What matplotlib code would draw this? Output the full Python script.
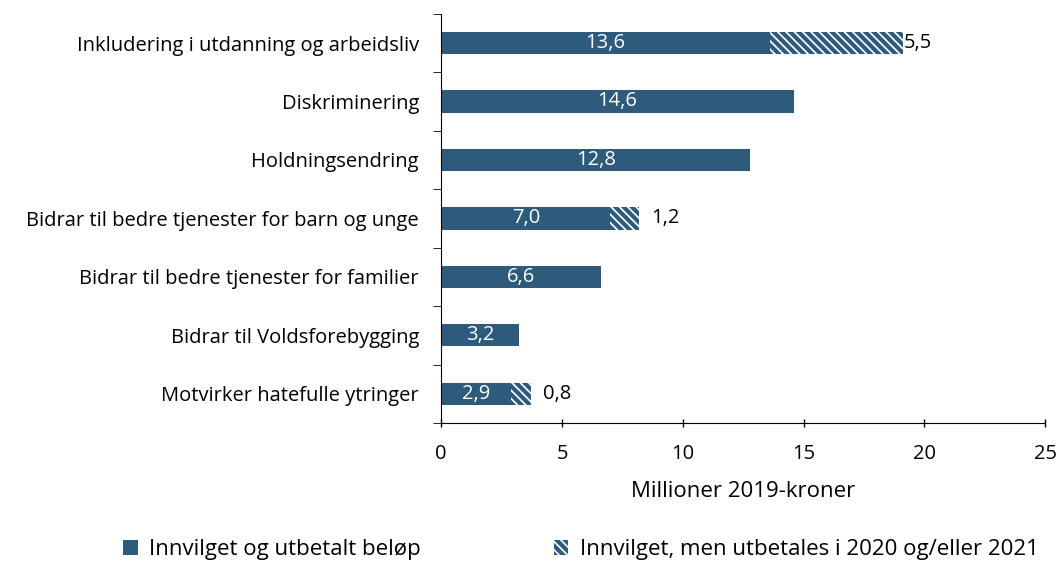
import matplotlib
matplotlib.use('Agg')
import matplotlib.pyplot as plt
import numpy as np
from matplotlib.patches import Patch

categories = ['Inkludering i utdanning og arbeidsliv', 'Diskriminering', 'Holdningsendring',
              'Bidrar til bedre tjenester for barn og unge', 'Bidrar til bedre tjenester for familier',
              'Bidrar til Voldsforebygging', 'Motvirker hatefulle ytringer']
paid = [13.6, 14.6, 12.8, 7.0, 6.6, 3.2, 2.9]
pending = [5.5, 0, 0, 1.2, 0, 0, 0.8]

COLOR = '#2E5A7C'
FS = 14.5
plt.rcParams['font.family'] = ['Open Sans', 'DejaVu Sans']
plt.rcParams['hatch.linewidth'] = 3.0
plt.rcParams['hatch.color'] = COLOR

def fmt(v):
    return f'{v:.1f}'.replace('.', ',')

fig = plt.figure(figsize=(10.58, 5.74), dpi=100)
ax = fig.add_axes([0.417, 0.263, 0.571, 0.713])

y = np.arange(len(categories))
ax.barh(y, paid, height=0.38, color=COLOR)
ax.barh(y, pending, left=paid, height=0.38, color='white', edgecolor=COLOR,
        linewidth=0, hatch='\\\\\\\\')

for yi, p, q in zip(y, paid, pending):
    ax.text(p / 2, yi, fmt(p), color='white', ha='center', va='center', fontsize=FS)
    if q > 0:
        ax.text(p + q + (0.05 if q > 3 else 0.5), yi, fmt(q), color='black', ha='left',
                va='center', fontsize=FS)

ax.set_ylim(len(categories) - 0.5, -0.5)
ax.set_yticks(y)
ax.set_yticklabels(categories, fontsize=FS)
ax.tick_params(axis='y', length=0, pad=16)
ax.set_yticks(np.arange(-0.5, len(categories)), minor=True)
ax.tick_params(axis='y', which='minor', length=6, direction='out')

ax.set_xlim(0, 25)
ax.set_xticks(range(0, 26, 5))
ax.tick_params(axis='x', labelsize=FS, length=6, direction='inout', width=1, pad=12)
ax.set_xlabel('Millioner 2019-kroner', fontsize=FS + 1.5, labelpad=12)

for s in ['top', 'right']:
    ax.spines[s].set_visible(False)
for s in ['left', 'bottom']:
    ax.spines[s].set_color('black')

handles = [Patch(facecolor=COLOR, label='Innvilget og utbetalt beløp'),
           Patch(facecolor='white', edgecolor=COLOR, linewidth=0, hatch='\\\\\\\\',
                 label='Innvilget, men utbetales i 2020 og/eller 2021')]
fig.legend(handles=handles, loc='center', bbox_to_anchor=(0.549, 0.042), ncol=2,
           frameon=False, fontsize=16, handlelength=0.65, handleheight=0.65,
           columnspacing=6.0, handletextpad=0.5)

fig.savefig('out.png', dpi=100)
